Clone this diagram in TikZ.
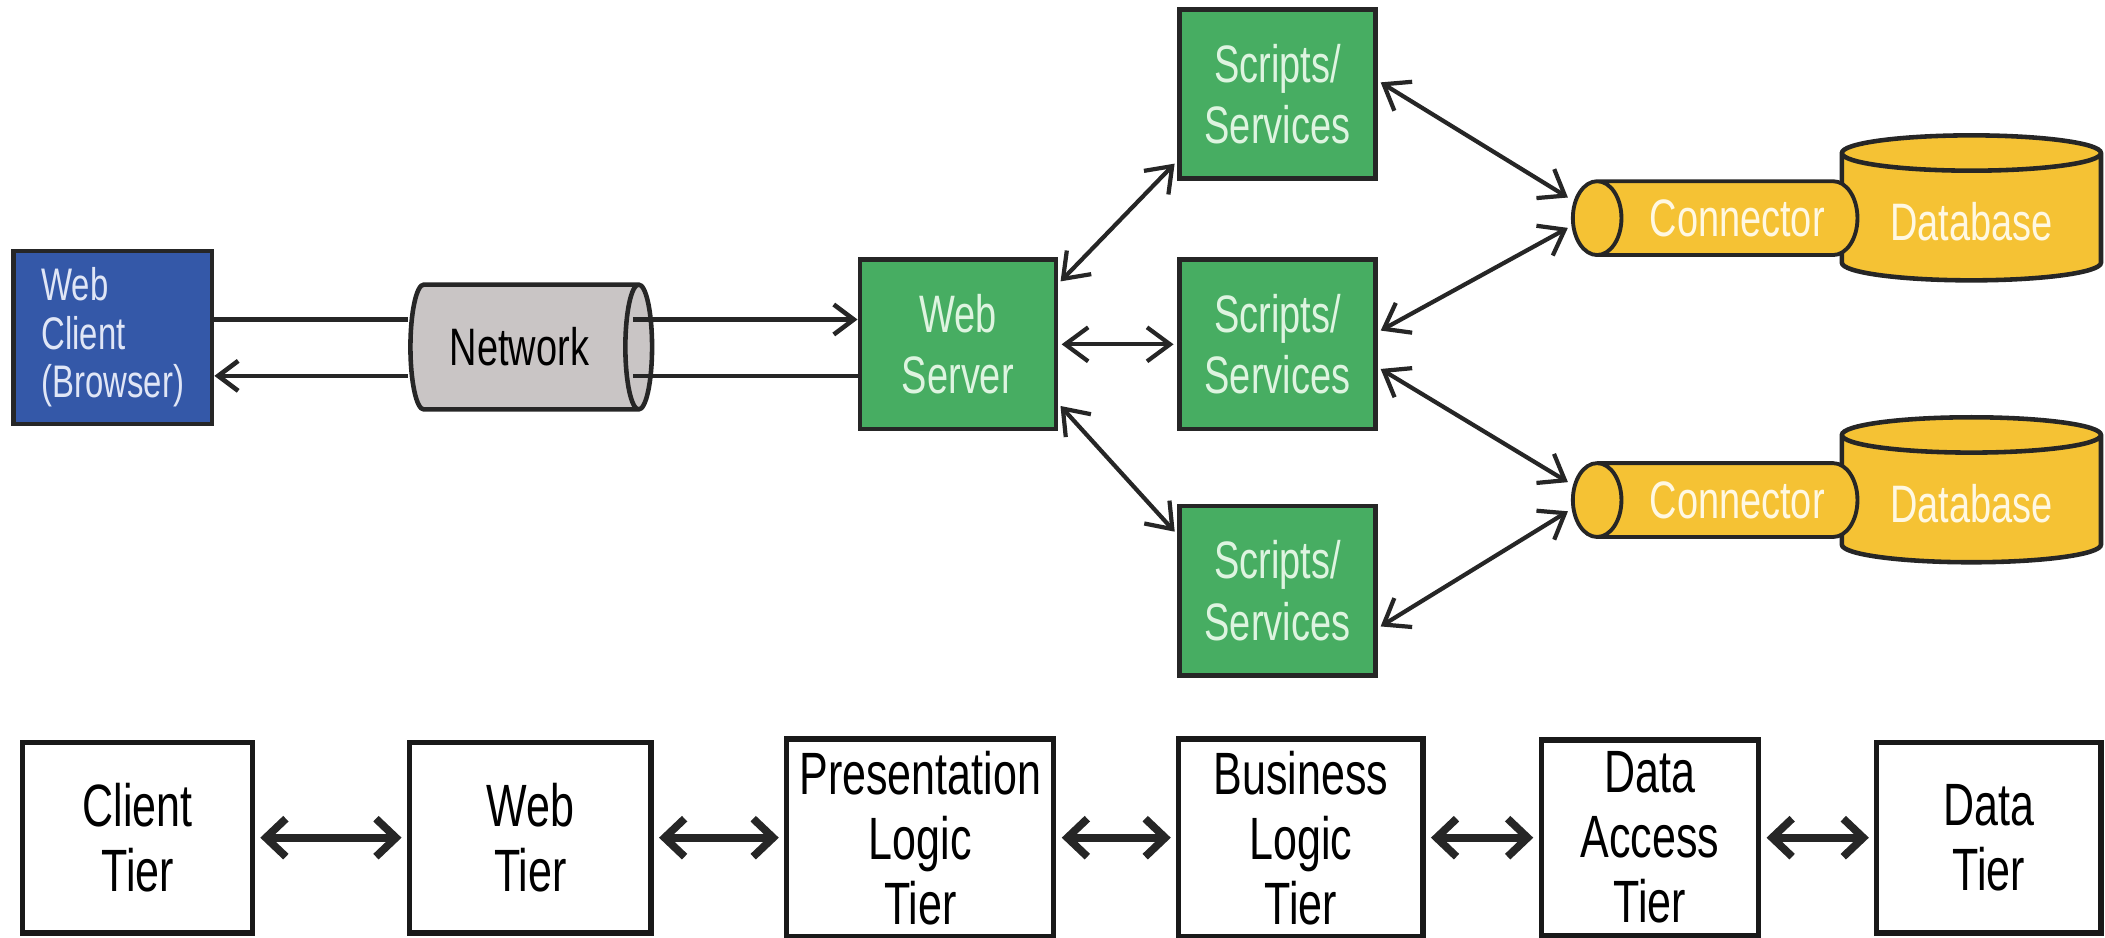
\documentclass[tikz,border=0pt]{standalone}
\usepackage{fontspec}
\setmainfont{Liberation Sans}[FakeStretch=0.72]
\usetikzlibrary{shapes.geometric,arrows.meta}

\newcommand{\px}{0.013425cm}
\definecolor{clientblue}{RGB}{52,88,168}
\definecolor{servergreen}{RGB}{71,173,98}
\definecolor{dbyellow}{RGB}{245,194,52}
\definecolor{netgray}{RGB}{201,197,197}
\definecolor{greentext}{RGB}{222,244,224}
\definecolor{bluetext}{RGB}{224,230,246}
\definecolor{yellowtext}{RGB}{255,248,226}

\tikzset{
  clientbox/.style={draw=black!85, line width=1.3pt, fill=clientblue, text=bluetext,
    minimum width=148*\px, minimum height=129*\px, align=left,
    font=\fontsize{13}{13.8}\selectfont},
  greenbox/.style={draw=black!85, line width=1.3pt, fill=servergreen, text=greentext,
    minimum width=146*\px, minimum height=126*\px, align=center,
    font=\fontsize{15}{17.5}\selectfont},
  % for a cylinder: minimum width = diameter, minimum height = length
  netcyl/.style={cylinder, draw=black!85, line width=1.3pt, fill=netgray,
    minimum width=93*\px, minimum height=180*\px, aspect=0.43,
    font=\fontsize{15}{17}\selectfont},
  dbcyl/.style={cylinder, shape border rotate=90, draw=black!85, line width=1.3pt,
    fill=dbyellow, text=yellowtext, minimum width=193*\px, minimum height=108*\px,
    aspect=0.19, font=\fontsize{15}{17}\selectfont},
  concyl/.style={cylinder, shape border rotate=180, draw=black!85, line width=1.1pt,
    fill=dbyellow, text=yellowtext, minimum width=55*\px, minimum height=212*\px,
    aspect=0.8, font=\fontsize{15}{17}\selectfont},
  tierbox/.style={draw=black!90, line width=1.5pt, fill=white, minimum height=142*\px,
    align=center, font=\fontsize{17}{18.5}\selectfont},
  wire/.style={line width=1.3pt, black!85},
  link/.style={line width=1.2pt, black!85, shorten <=1pt, shorten >=1pt,
    {Straight Barb[length=2.3mm,width=3.4mm]}-{Straight Barb[length=2.3mm,width=3.4mm]}},
  tierlink/.style={line width=2.2pt, black!85, shorten <=1.5pt, shorten >=1.5pt,
    {Straight Barb[length=2mm,width=3.8mm]}-{Straight Barb[length=2mm,width=3.8mm]}}
}

\begin{document}
\begin{tikzpicture}[x=\px, y=-\px]
    \useasboundingbox (0,0) rectangle (1568,698);
    % top row
    \node[clientbox] (client) at (84,251.5) {Web\\Client\\(Browser)};
    \node[netcyl] (net) at (387,258.5) {Network};
    \node[greenbox] (server) at (713.5,256.5) {Web\\Server};
    \node[greenbox] (s1) at (951.5,70) {Scripts/\\Services};
    \node[greenbox] (s2) at (951.5,256.5) {Scripts/\\Services};
    \node[greenbox] (s3) at (951.5,440) {Scripts/\\Services};
    \node[dbcyl] (db1) at (1468.5,165) {Database};
    \node[concyl] (con1) at (1294,162.5) {Connector};
    \node[dbcyl] (db2) at (1468.5,375) {Database};
    \node[concyl] (con2) at (1294,372.5) {Connector};
    % client <-> server through the network
    \coordinate (hi) at (0,238);
    \coordinate (lo) at (0,280);
    \draw[wire] (client.east |- hi) -- (net.west |- hi);
    \draw[wire,-{Straight Barb[length=2mm,width=3mm]}] ([xshift=-16*\px]net.east |- hi) -- (server.west |- hi);
    \draw[wire] (server.west |- lo) -- ([xshift=-16*\px]net.east |- lo);
    \draw[wire,-{Straight Barb[length=2mm,width=3mm]}] (net.west |- lo) -- (client.east |- lo);
    % server <-> scripts
    \draw[link] ([yshift=45*\px]server.east) -- ([yshift=-50*\px]s1.west);
    \draw[link] (server.east) -- (s2.west);
    \draw[link] ([yshift=-44*\px]server.east) -- ([yshift=42*\px]s3.west);
    % scripts <-> connectors
    \draw[link] ([yshift=10*\px]s1.east) -- ([yshift=14*\px]con1.west);
    \draw[link] ([yshift=9*\px]s2.east) -- ([yshift=-6*\px]con1.west);
    \draw[link] ([yshift=-17*\px]s2.east) -- ([yshift=12*\px]con2.west);
    \draw[link] ([yshift=-28*\px]s3.east) -- ([yshift=-7*\px]con2.west);
    % tiers
    \node[tierbox, minimum width=171*\px] (ct) at (102.5,624) {Client\\Tier};
    \node[tierbox, minimum width=180*\px] (wt) at (395,624) {Web\\Tier};
    \node[tierbox, minimum width=199*\px] (pt) at (685.5,624) {Presentation\\Logic\\Tier};
    \node[tierbox, minimum width=182*\px] (bt) at (969,624) {Business\\Logic\\Tier};
    \node[tierbox, minimum width=162*\px] (dat) at (1229,624) {Data\\Access\\Tier};
    \node[tierbox, minimum width=167*\px] (dt) at (1481.5,624) {Data\\Tier};
    \foreach \a/\b in {ct/wt,wt/pt,pt/bt,bt/dat,dat/dt}
        \draw[tierlink] (\a) -- (\b);
\end{tikzpicture}
\end{document}
